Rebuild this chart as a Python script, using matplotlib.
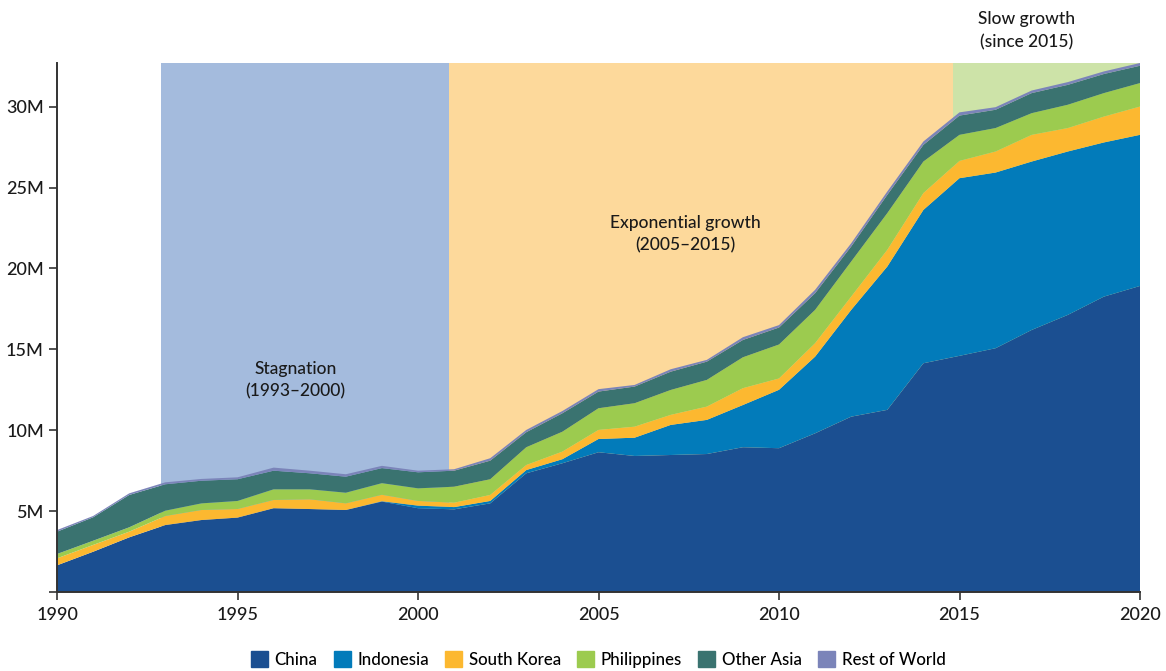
import matplotlib
matplotlib.use("Agg")
import matplotlib.pyplot as plt
import matplotlib.patches as mpatches
import numpy as np

plt.rcParams['font.family'] = ['Lato', 'DejaVu Sans']

# yearly values, in millions
years = list(range(1990, 2021))
china = [1.65, 2.49, 3.38, 4.14, 4.45, 4.60, 5.18, 5.13, 5.07, 5.59, 5.18, 5.11, 5.48, 7.34, 7.96, 8.64,
         8.41, 8.47, 8.53, 8.95, 8.89, 9.81, 10.84, 11.26, 14.14, 14.60, 15.07, 16.20, 17.13, 18.26, 18.92]
indonesia = [0, 0, 0, 0, 0, 0, 0, 0, 0, 0.02, 0.16, 0.14, 0.15, 0.20, 0.25, 0.82,
             1.13, 1.86, 2.11, 2.61, 3.61, 4.74, 6.60, 8.86, 9.48, 10.98, 10.86, 10.41, 10.10, 9.53, 9.34]
south_korea = [0.43, 0.42, 0.35, 0.56, 0.62, 0.53, 0.51, 0.60, 0.41, 0.40, 0.29, 0.27, 0.37, 0.31, 0.47, 0.56,
               0.68, 0.62, 0.82, 1.04, 0.70, 0.83, 0.82, 1.03, 1.04, 1.07, 1.30, 1.65, 1.45, 1.60, 1.75]
philippines = [0.27, 0.26, 0.27, 0.33, 0.41, 0.50, 0.66, 0.62, 0.66, 0.72, 0.78, 0.99, 0.97, 1.10, 1.23, 1.34,
               1.45, 1.54, 1.65, 1.91, 2.10, 2.06, 2.17, 2.27, 1.95, 1.61, 1.45, 1.34, 1.44, 1.45, 1.45]
other_asia = [1.38, 1.45, 2.00, 1.63, 1.40, 1.34, 1.15, 0.99, 0.99, 0.93, 0.99, 0.99, 1.15, 0.93, 1.14, 1.03,
              1.03, 1.13, 1.13, 1.07, 1.05, 1.03, 0.93, 1.13, 1.03, 1.19, 1.13, 1.24, 1.23, 1.18, 1.07]
rest_of_world = [0.10, 0.08, 0.10, 0.12, 0.11, 0.12, 0.19, 0.16, 0.15, 0.14, 0.10, 0.09, 0.15, 0.14, 0.14, 0.15,
                 0.10, 0.15, 0.11, 0.17, 0.15, 0.21, 0.20, 0.21, 0.21, 0.20, 0.16, 0.16, 0.17, 0.16, 0.17]

series_names = ['China', 'Indonesia', 'South Korea', 'Philippines', 'Other Asia', 'Rest of World']
series_colors = ['#1b4f91', '#027bba', '#fcb830', '#9ccb4f', '#3a7370', '#7b84b9']

# periods: (start, end, label, colour)
periods = [(1992.88, 2000.86, 'Stagnation\n(1993\u20132000)', '#a4bbdd'),
           (2000.86, 2014.82, 'Exponential growth\n(2005\u20132015)', '#fdd99b'),
           (2014.82, 2020, 'Slow growth\n(since 2015)', '#cde3a8')]

fig = plt.figure(figsize=(11.66, 6.71), dpi=100)
ax = fig.add_axes([0.0489, 0.1177, 0.9288, 0.7884])

for start, end, label, col in periods:
    ax.axvspan(start, end, color=col, lw=0, zorder=0)

ax.stackplot(years, china, indonesia, south_korea, philippines, other_asia, rest_of_world,
             colors=series_colors, lw=0, zorder=2)

total = np.sum([china, indonesia, south_korea, philippines, other_asia, rest_of_world], axis=0)
ax.set_xlim(1990, 2020)
ax.set_ylim(0, total.max())

# period labels
txt = dict(ha='center', va='center', fontsize=12.5, color='#1a1a1a', linespacing=1.5, fontweight='medium')
ax.text(1996.6, 13.1, periods[0][2], **txt)
ax.text(2007.4, 22.1, periods[1][2], **txt)
ax.text(2016.85, 34.7, periods[2][2], clip_on=False, **txt)

ax.set_xticks(range(1990, 2021, 5))
ax.set_yticks(range(0, 31, 5))
ax.set_yticklabels([''] + [f'{v}M' for v in range(5, 31, 5)])
ax.tick_params(axis='both', labelsize=13, colors='#333333', labelcolor='#1a1a1a', length=6, width=1.2)
ax.tick_params(axis='x', pad=5)
for lab in ax.get_xticklabels() + ax.get_yticklabels():
    lab.set_fontweight('medium')

for s in ['top', 'right']:
    ax.spines[s].set_visible(False)
for s in ['left', 'bottom']:
    ax.spines[s].set_color('#333333')
    ax.spines[s].set_linewidth(1.4)
    ax.spines[s].set_zorder(5)

handles = [mpatches.Patch(color=c, label=n) for n, c in zip(series_names, series_colors)]
fig.legend(handles=handles, loc='lower center', bbox_to_anchor=(0.513, -0.018), ncol=6, frameon=False,
           prop={'size': 12.2, 'weight': 'medium'}, handlelength=1.0, handleheight=1.0,
           handletextpad=0.4, columnspacing=0.95)

fig.savefig('out.png', dpi=100)
